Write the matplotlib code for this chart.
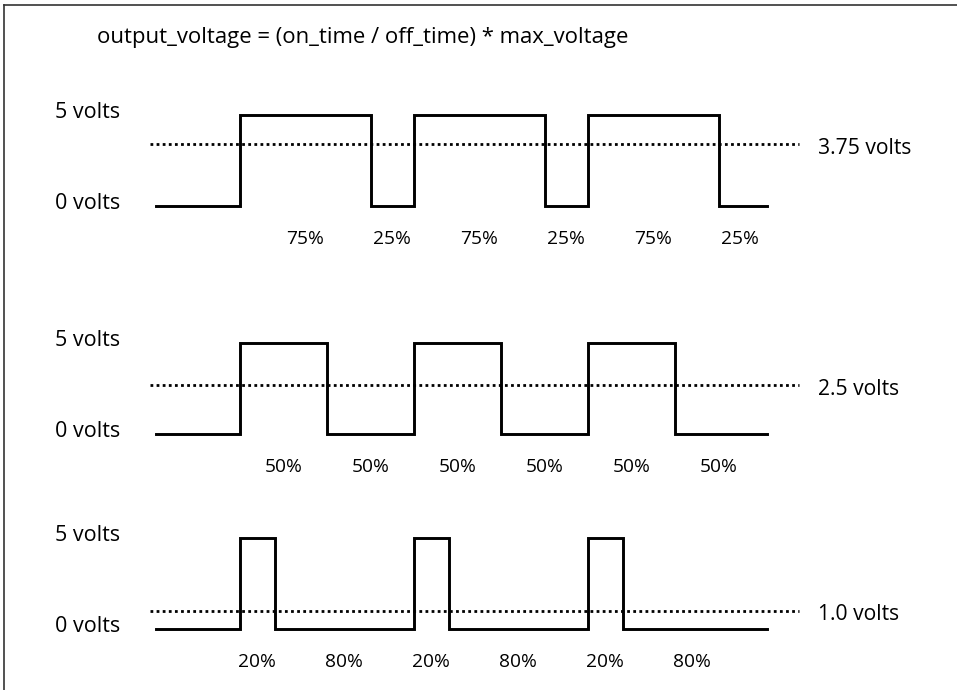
import matplotlib
matplotlib.use("Agg")
import matplotlib.pyplot as plt
from matplotlib.lines import Line2D

plt.rcParams["font.family"] = ["Open Sans", "DejaVu Sans"]

# ------------------------------------------------------------------ #
#  Data                                                               #
# ------------------------------------------------------------------ #
title = "output_voltage = (on_time / off_time) * max_voltage"

duty_cycles = [0.75, 0.50, 0.20]               # fraction of period at 5 V
duty_labels = [("75%", "25%"), ("50%", "50%"), ("20%", "80%")]
avg_levels = [3.4, 2.7, 1.0]                     # dotted average line (as drawn)
avg_labels = ["3.75 volts", "2.5 volts", "1.0 volts"]
level_labels = ["5 volts", "0 volts"]

v_high = 5.0
period = 10.0
n_periods = 3
t_start, t_end = -4.8, 30.3          # waveform extent
avg_start, avg_end = -5.2, 32.1      # dotted line extent

# pixel layout (figure is 957 x 690 px)
W, H = 957, 690
px_per_unit = 17.4
x0_px = 240                          # pixel of t = 0
px_per_volt = 18.2
low_px = [206, 434, 629]             # pixel row of 0 V in each panel


def waveform(duty):
    ts, vs = [t_start], [0.0]
    for k in range(n_periods):
        rise = k * period
        fall = rise + duty * period
        ts += [rise, rise, fall, fall]
        vs += [0.0, v_high, v_high, 0.0]
    ts.append(t_end)
    vs.append(0.0)
    return ts, vs


fig = plt.figure(figsize=(W / 100, H / 100), dpi=100)
fig.patch.set_facecolor("white")

xlim = (-x0_px / px_per_unit, (W - x0_px) / px_per_unit)
above, below = 160, 60

for i, duty in enumerate(duty_cycles):
    top = low_px[i] - above
    bottom = low_px[i] + below
    ax = fig.add_axes([0, 1 - bottom / H, 1, (bottom - top) / H])
    ax.set_xlim(*xlim)
    ax.set_ylim(-below / px_per_volt, above / px_per_volt)
    ax.axis("off")

    ts, vs = waveform(duty)
    ax.plot(ts, vs, color="black", lw=2.1, solid_joinstyle="miter")
    ax.plot([avg_start, avg_end], [avg_levels[i]] * 2, color="black",
            lw=2.0, linestyle=(0, (1, 1.2)))

    # left level labels
    for lab, v in zip(level_labels, [v_high, 0.0]):
        ax.annotate(lab, (-6.9, v), xytext=(0, 1.5), textcoords="offset points",
                    ha="right", va="center", fontsize=15.5)

    # right average label
    ax.annotate(avg_labels[i], (33.2, avg_levels[i]), xytext=(0, -3),
                textcoords="offset points", ha="left", va="center", fontsize=15.2)

    # duty percentage labels centred under each segment
    on_lab, off_lab = duty_labels[i]
    for k in range(n_periods):
        rise = k * period
        fall = rise + duty * period
        for lab, a, b in [(on_lab, rise, fall), (off_lab, fall, rise + period)]:
            ax.annotate(lab, ((a + b) / 2, 0), xytext=(0, -24),
                        textcoords="offset points", ha="center", va="center",
                        fontsize=13.8)

fig.text(97 / W, 1 - 38 / H, title, ha="left", va="center", fontsize=15.9)

# thin frame on top and left
fig.add_artist(Line2D([3.5 / W, 1], [1 - 5 / H] * 2, color="#333333", lw=1.2))
fig.add_artist(Line2D([3.5 / W] * 2, [0, 1 - 5 / H], color="#333333", lw=1.2))

fig.savefig("out.png", dpi=100, facecolor="white")
